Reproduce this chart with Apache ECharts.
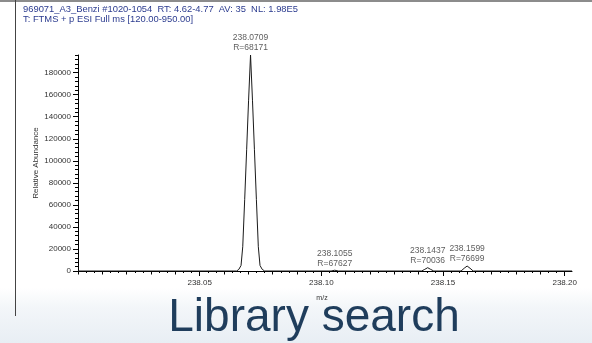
<!DOCTYPE html>
<html>
<head>
<meta charset="utf-8">
<script src="https://cdn.jsdelivr.net/npm/echarts@6/dist/echarts.min.js"></script>
<style>
  html, body { margin: 0; padding: 0; background: #fff; }
  #chart { width: 592px; height: 343px; }
</style>
</head>
<body>
<div id="chart"></div>
<script>
// Profile spectrum: m/z and intensity of each sampled point
const profileMz = [
  238.0000, 238.0652, 238.0661, 238.0670, 238.0677, 238.0685, 238.0693, 238.0701,
  238.0709, 238.0717, 238.0725, 238.0733, 238.0741, 238.0748, 238.0757, 238.0767,
  238.1040, 238.1055, 238.1070,
  238.1412, 238.1425, 238.1437, 238.1449, 238.1462,
  238.1574, 238.1587, 238.1599, 238.1611, 238.1624,
  238.2030
];
const profileIntensity = [
  0, 0, 1500, 5000, 22000, 65000, 110000, 155000,
  196000, 155000, 110000, 65000, 22000, 5000, 1500, 0,
  0, 700, 0,
  0, 1500, 3000, 1500, 0,
  0, 2500, 4500, 2500, 0,
  0
];

// Labelled centroids
const peakMz = [238.0709, 238.1055, 238.1437, 238.1599];
const peakHeight = [196000, 700, 3000, 4500];
const peakResolution = [68171, 67627, 70036, 76699];

// Axis tick labels
const yTickValues = [0, 20000, 40000, 60000, 80000, 100000, 120000, 140000, 160000, 180000];
const xTickValues = [238.05, 238.10, 238.15, 238.20];

const headerLine1 = '969071_A3_Benzi #1020-1054  RT: 4.62-4.77  AV: 35  NL: 1.98E5';
const headerLine2 = 'T: FTMS + p ESI Full ms [120.00-950.00]';

const FONT = '"Liberation Sans", Arial, sans-serif';

// tick grids for the x axis: medium ticks every 0.01, fine ticks a third of that
const xMid = [];
for (let i = 0; i <= 20; i++) xMid.push(+(238 + i * 0.01).toFixed(4));
const xFine = [];
for (let i = 0; i <= 60; i++) xFine.push(+(238 + i * 0.01 / 3).toFixed(5));
// fine ticks on y every 4000
const yFine = [];
for (let v = 0; v <= 196000; v += 4000) yFine.push(v);

const chart = echarts.init(document.getElementById('chart'), null, { renderer: 'canvas' });

const common = { fontFamily: FONT, fontSize: 8, color: '#333' };

chart.setOption({
  animation: false,
  backgroundColor: '#fff',
  grid: { left: 78, right: 20, top: 55, bottom: 72, containLabel: false },
  xAxis: [
    {
      type: 'value', min: 238.0, max: 238.203,
      axisLine: { show: true, lineStyle: { color: '#000', width: 1 } },
      axisTick: { show: true, length: 5, customValues: xTickValues, lineStyle: { color: '#000' } },
      axisLabel: { show: true, customValues: xTickValues, margin: 8, ...common,
        formatter: v => v.toFixed(2) },
      splitLine: { show: false },
      name: 'm/z', nameLocation: 'middle', nameGap: 24,
      nameTextStyle: { fontFamily: FONT, fontSize: 7, color: '#333', padding: [0, 6, 0, 0] }
    },
    {
      type: 'value', min: 238.0, max: 238.203, position: 'bottom',
      axisLine: { show: false },
      axisTick: { show: true, length: 3.5, customValues: xMid, lineStyle: { color: '#000' } },
      axisLabel: { show: false },
      splitLine: { show: false }
    },
    {
      type: 'value', min: 238.0, max: 238.203, position: 'bottom',
      axisLine: { show: false },
      axisTick: { show: true, length: 2, customValues: xFine, lineStyle: { color: '#000' } },
      axisLabel: { show: false },
      splitLine: { show: false }
    }
  ],
  yAxis: [
    {
      type: 'value', min: 0, max: 196000,
      axisLine: { show: true, lineStyle: { color: '#000', width: 1 } },
      axisTick: { show: true, length: 5, customValues: yTickValues, lineStyle: { color: '#000' } },
      axisLabel: { show: true, customValues: yTickValues, margin: 7, ...common,
        formatter: v => String(v) },
      splitLine: { show: false },
      name: 'Relative Abundance', nameLocation: 'middle', nameGap: 38, nameRotate: 90,
      nameMoveOverlap: false,
      nameTextStyle: { fontFamily: FONT, fontSize: 8, color: '#333', padding: [0, 0, 0, 0] }
    },
    {
      type: 'value', min: 0, max: 196000, position: 'left',
      axisLine: { show: false },
      axisTick: { show: true, length: 3, customValues: yFine, lineStyle: { color: '#000' } },
      axisLabel: { show: false },
      splitLine: { show: false }
    }
  ],
  series: [
    {
      type: 'line',
      data: profileMz.map((m, i) => [m, profileIntensity[i]]),
      showSymbol: false,
      lineStyle: { color: '#1a1a1a', width: 1 },
      silent: true
    },
    {
      type: 'scatter',
      data: peakMz.map((m, i) => [m, peakHeight[i], peakResolution[i]]),
      symbolSize: 0,
      label: {
        show: true, position: 'top', distance: 2,
        fontFamily: FONT, fontSize: 8.5, color: '#333', lineHeight: 10,
        formatter: p => p.value[0].toFixed(4) + '\nR=' + p.value[2]
      },
      silent: true
    }
  ],
  graphic: [
    // soft bluish band along the bottom
    { type: 'rect', left: 0, top: 288, shape: { width: 592, height: 55 }, silent: true, z: -10,
      style: { fill: new echarts.graphic.LinearGradient(0, 0, 0, 1, [
        { offset: 0, color: '#ffffff' }, { offset: 0.35, color: '#f3f6f9' }, { offset: 1, color: '#e8eef4' }
      ]) } },
    // frame: grey rule on top and dark rule on the left
    { type: 'rect', left: 0, top: 0, shape: { width: 592, height: 2 }, style: { fill: '#8c8c8c' }, silent: true },
    { type: 'rect', left: 15, top: 0, shape: { width: 1, height: 316 }, style: { fill: '#444' }, silent: true },
    { type: 'text', left: 23, top: 5, silent: true,
      style: { text: headerLine1, font: '9.4px ' + FONT, fill: '#2b3b8f' } },
    { type: 'text', left: 23, top: 15, silent: true,
      style: { text: headerLine2, font: '9.4px ' + FONT, fill: '#2b3b8f' } },
    { type: 'text', x: 314, y: 341, silent: true,
      style: { text: 'Library search', font: '46px ' + FONT, fill: '#1f3d5c',
        textAlign: 'center', textVerticalAlign: 'bottom' } }
  ]
});
</script>
</body>
</html>
